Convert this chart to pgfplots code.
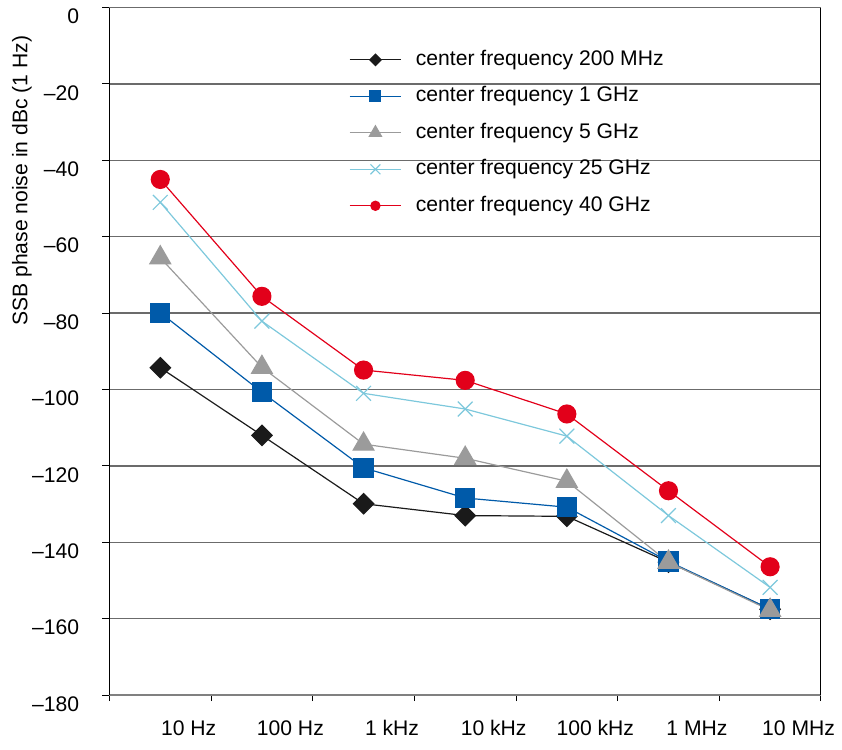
\documentclass[border=0pt]{standalone}
\usepackage{fontspec}
\setmainfont{Liberation Sans}
\usepackage{pgfplots}
\pgfplotsset{compat=1.18}

\definecolor{cBlack}{RGB}{26,26,26}
\definecolor{cBlue}{RGB}{0,90,169}
\definecolor{cGray}{RGB}{155,155,155}
\definecolor{cCyan}{RGB}{125,200,220}
\definecolor{cRed}{RGB}{226,0,26}

\begin{document}
\fontsize{10.6}{12.7}\selectfont
\begin{tikzpicture}
\begin{axis}[
  scale only axis,
  width=357pt, height=345pt,
  xmin=-0.5, xmax=6.5,
  ymin=-180, ymax=0,
  axis x line=bottom,
  axis y line=box,
  x axis line style={-, draw=black!50, line width=0.9pt},
  y axis line style={-, draw=black, line width=0.5pt},
  xtick={0.28,1.28,2.28,3.28,4.28,5.28,6.28},
  xticklabels={10 Hz,100 Hz,1 kHz,10 kHz,100 kHz,1 MHz,10 MHz},
  minor xtick={-0.5,0.5,1.5,2.5,3.5,4.5,5.5,6.5},
  major x tick style={draw=none},
  minor x tick style={black, line width=0.5pt},
  ytick={-180,-160,-140,-120,-100,-80,-60,-40,-20,0},
  yticklabels={–180,–160,–140,–120,–100,–80,–60,–40,–20,0},
  ytick pos=left,
  tick align=outside,
  major tick length=3.5pt,
  minor tick length=3pt,
  major y tick style={black, line width=0.5pt},
  ymajorgrids,
  grid style={black!58, line width=0.75pt},
  xticklabel style={yshift=-5.5pt},
  yticklabel style={xshift=-8pt, yshift=-4.5pt},
  ylabel={SSB phase noise in dBc (1 Hz)},
  ylabel style={at={(axis description cs:-0.1232,0.748)}, anchor=center, inner sep=6pt},
  legend style={draw=none, fill=none, inner sep=0pt,
    at={(axis description cs:0.336,0.944)}, anchor=north west,
    nodes={text height=7.5pt, text depth=2pt, inner xsep=7pt}, row sep=4.8pt},
  legend cell align=left,
  legend image code/.code={\draw[mark repeat=2,mark phase=2] plot coordinates {(0pt,0pt)(13pt,0pt)(26pt,0pt)};},
  every axis plot/.append style={line width=0.6pt},
]
\addplot[cBlack, mark=square*, mark size=3.6pt, mark options={rotate=45, fill=cBlack},
  legend image post style={mark size=2pt}]
  coordinates {(0,-94.3) (1,-112.0) (2,-129.9) (3,-133.0) (4,-133.2) (5,-145.2) (6,-157.5)};
\addlegendentry{center frequency 200 MHz}
\addplot[cBlue, mark=square*, mark size=4.8pt, mark options={fill=cBlue},
  legend image post style={mark size=2.75pt}]
  coordinates {(0,-79.9) (1,-100.7) (2,-120.5) (3,-128.4) (4,-130.8) (5,-145.0) (6,-157.5)};
\addlegendentry{center frequency 1 GHz}
\addplot[cGray, mark=triangle*, mark size=6pt, mark options={fill=cGray},
  legend image post style={mark size=3.5pt}]
  coordinates {(0,-65.5) (1,-94.2) (2,-114.3) (3,-118.0) (4,-124.0) (5,-145.2) (6,-157.8)};
\addlegendentry{center frequency 5 GHz}
\addplot[cCyan, mark=x, mark size=5.25pt,
  legend image post style={mark size=3.5pt}]
  coordinates {(0,-51.0) (1,-82.1) (2,-101.0) (3,-105.1) (4,-112.2) (5,-133.0) (6,-151.8)};
\addlegendentry{center frequency 25 GHz}
\addplot[cRed, mark=*, mark size=4.5pt, mark options={fill=cRed},
  legend image post style={mark size=2.3pt}]
  coordinates {(0,-45.0) (1,-75.6) (2,-94.9) (3,-97.6) (4,-106.4) (5,-126.5) (6,-146.4)};
\addlegendentry{center frequency 40 GHz}
\end{axis}
\path ([yshift=-3pt]current bounding box.south) ([yshift=1pt]current bounding box.north);
\end{tikzpicture}
\end{document}
